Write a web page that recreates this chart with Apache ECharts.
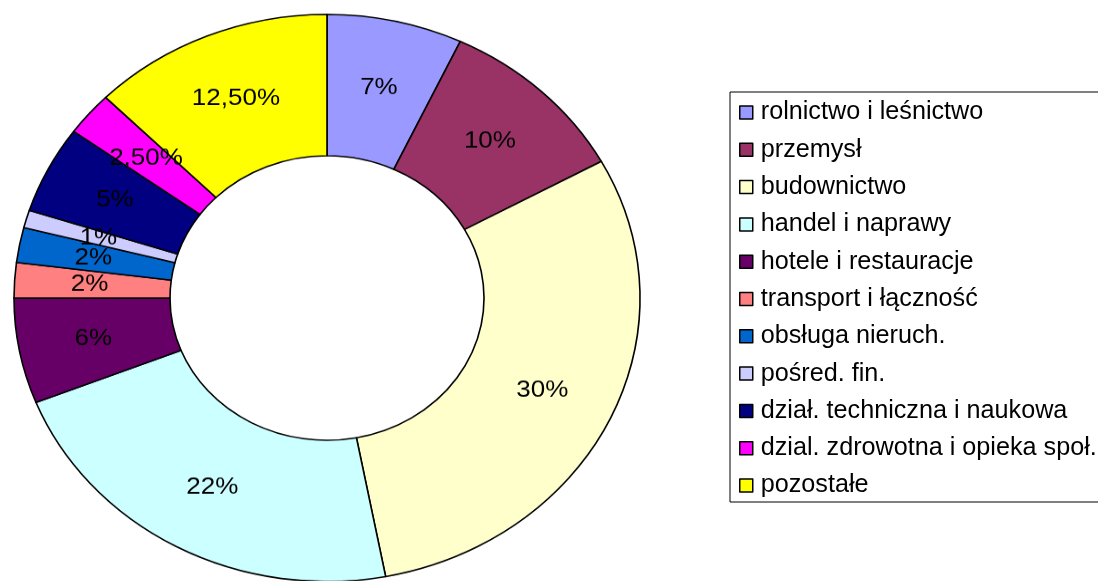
<!DOCTYPE html>
<html>
<head>
    <meta charset="utf-8">
    <title>Struktura</title>
    <script src="https://cdn.jsdelivr.net/npm/echarts@6/dist/echarts.min.js"></script>
    <style>
        html, body {
            margin: 0;
            padding: 0;
            background: #ffffff;
            overflow: hidden;
        }
        #page {
            position: relative;
            width: 1098px;
            height: 581px;
            overflow: hidden;
        }
        /* excel draws the ring as a slightly flattened ellipse */
        #pie {
            position: absolute;
            left: -3.5px;
            top: -32.5px;
            width: 660px;
            height: 660px;
            transform: scaleY(0.906);
            transform-origin: 50% 50%;
        }
        /* wider than the page so the legend box runs off the edge like the original */
        #leg {
            position: absolute;
            left: 0;
            top: 0;
            width: 1300px;
            height: 581px;
        }
    </style>
</head>
<body>
<div id="page">
    <div id="pie"></div>
    <div id="leg"></div>
</div>
<script type="text/javascript">
    var categories = ['rolnictwo i leśnictwo', 'przemysł', 'budownictwo', 'handel i naprawy',
        'hotele i restauracje', 'transport i łączność', 'obsługa nieruch.', 'pośred. fin.',
        'dział. techniczna i naukowa', 'dzial. zdrowotna i opieka społ.', 'pozostałe'];
    var shares = [7, 10, 30, 22, 6, 2, 2, 1, 5, 2.5, 12.5];
    var colors = ['#9999FF', '#993366', '#FFFFCC', '#CCFFFF', '#660066', '#FF8080',
        '#0066CC', '#CCCCFF', '#000080', '#FF00FF', '#FFFF00'];

    var font = '"Liberation Sans", Arial, sans-serif';

    function pct(v) {
        if (v % 1 === 0) return v + '%';
        return v.toFixed(2).replace('.', ',') + '%';
    }

    var pieData = categories.map(function (name, i) {
        return { name: name, value: shares[i], itemStyle: { color: colors[i] } };
    });

    var pieChart = echarts.init(document.getElementById('pie'));
    pieChart.setOption({
        animation: false,
        series: [{
            type: 'pie',
            center: ['50%', '50%'],
            radius: [157, 313],
            startAngle: 90,
            clockwise: true,
            avoidLabelOverlap: false,
            silent: true,
            itemStyle: {
                borderColor: '#000000',
                borderWidth: 1.6
            },
            label: {
                show: true,
                position: 'inside',
                color: '#000000',
                fontFamily: font,
                fontSize: 26,
                formatter: function (p) { return pct(p.value); }
            },
            labelLine: { show: false },
            labelLayout: { hideOverlap: false },
            data: pieData
        }]
    });

    var legChart = echarts.init(document.getElementById('leg'));
    legChart.setOption({
        animation: false,
        legend: {
            orient: 'vertical',
            left: 730,
            top: 92,
            padding: [8, 14, 4, 9],
            itemWidth: 13,
            itemHeight: 13,
            itemGap: 12.3,
            icon: 'rect',
            backgroundColor: '#ffffff',
            borderColor: '#000000',
            borderWidth: 1,
            borderRadius: 0,
            selectedMode: false,
            itemStyle: {
                borderColor: '#000000',
                borderWidth: 1.5
            },
            textStyle: {
                color: '#000000',
                fontFamily: font,
                fontSize: 25.2,
                padding: [0, 0, 0, 3]
            },
            data: categories
        },
        series: [{
            type: 'pie',
            radius: [0, 0],
            center: [-100, -100],
            silent: true,
            label: { show: false },
            labelLine: { show: false },
            data: pieData
        }]
    });
</script>
</body>
</html>
